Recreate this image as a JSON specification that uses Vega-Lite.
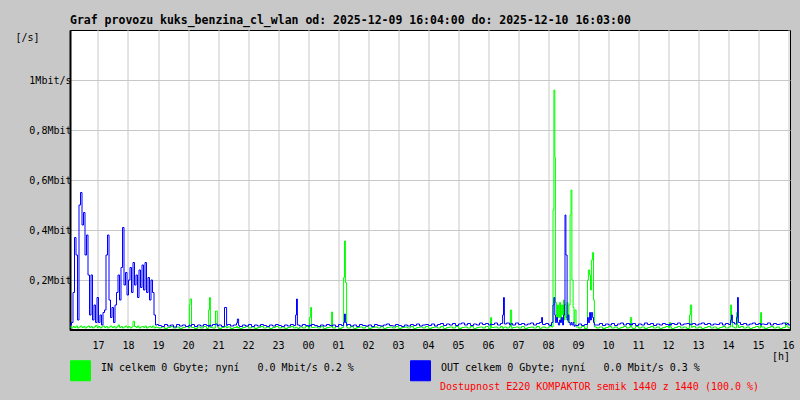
{
"$schema": "https://vega.github.io/schema/vega-lite/v6.json",
"width": 720,
"height": 300,
"autosize": {"type": "none"},
"padding": {"left": 70, "top": 30, "right": 10, "bottom": 70},
"background": "#c8c8c8",
"title": {"text": "Graf provozu kuks_benzina_cl_wlan od: 2025-12-09 16:04:00 do: 2025-12-10 16:03:00", "anchor": "start", "frame": "group", "font": "DejaVu Sans Mono", "fontSize": 11.5, "fontWeight": "bold", "color": "black", "offset": 4},
"config": {
  "view": {"fill": "white", "stroke": "black", "strokeWidth": 1},
  "axis": {"labelFont": "DejaVu Sans Mono", "labelFontSize": 10, "labelColor": "black", "titleFont": "DejaVu Sans Mono", "titleFontSize": 10, "titleFontWeight": "normal", "titleColor": "black", "gridColor": "#c8c8c8", "gridWidth": 1, "gridOpacity": 1, "domainColor": "black", "domainWidth": 2, "tickSize": 0, "labelFlush": false, "labelOverlap": false}
},
"data": {"values": [
{"h":16.05,"IN":0.012,"OUT":0.02},{"h":16.1,"IN":0.008,"OUT":0.03},{"h":16.15,"IN":0.014,"OUT":0.15},{"h":16.2,"IN":0.01,"OUT":0.37},{"h":16.25,"IN":0.016,"OUT":0.3},{"h":16.3,"IN":0.008,"OUT":0.04},{"h":16.35,"IN":0.012,"OUT":0.5},{"h":16.4,"IN":0.016,"OUT":0.55},{"h":16.45,"IN":0.01,"OUT":0.42},{"h":16.5,"IN":0.014,"OUT":0.47},{"h":16.55,"IN":0.008,"OUT":0.3},{"h":16.6,"IN":0.012,"OUT":0.38},{"h":16.65,"IN":0.016,"OUT":0.22},{"h":16.7,"IN":0.01,"OUT":0.06},{"h":16.75,"IN":0.014,"OUT":0.22},{"h":16.8,"IN":0.008,"OUT":0.04},{"h":16.85,"IN":0.012,"OUT":0.1},{"h":16.9,"IN":0.018,"OUT":0.03},{"h":16.95,"IN":0.01,"OUT":0.13},
{"h":17.0,"IN":0.014,"OUT":0.03},{"h":17.05,"IN":0.008,"OUT":0.06},{"h":17.1,"IN":0.012,"OUT":0.02},{"h":17.15,"IN":0.016,"OUT":0.07},{"h":17.2,"IN":0.01,"OUT":0.08},{"h":17.25,"IN":0.014,"OUT":0.3},{"h":17.3,"IN":0.008,"OUT":0.38},{"h":17.35,"IN":0.012,"OUT":0.12},{"h":17.4,"IN":0.016,"OUT":0.05},{"h":17.45,"IN":0.01,"OUT":0.09},{"h":17.5,"IN":0.014,"OUT":0.03},{"h":17.55,"IN":0.008,"OUT":0.1},{"h":17.6,"IN":0.012,"OUT":0.15},{"h":17.65,"IN":0.02,"OUT":0.22},{"h":17.7,"IN":0.01,"OUT":0.12},{"h":17.75,"IN":0.014,"OUT":0.25},{"h":17.8,"IN":0.008,"OUT":0.41},{"h":17.85,"IN":0.012,"OUT":0.18},{"h":17.9,"IN":0.016,"OUT":0.23},{"h":17.95,"IN":0.01,"OUT":0.14},
{"h":18.0,"IN":0.014,"OUT":0.2},{"h":18.05,"IN":0.008,"OUT":0.25},{"h":18.1,"IN":0.012,"OUT":0.15},{"h":18.15,"IN":0.035,"OUT":0.27},{"h":18.2,"IN":0.014,"OUT":0.18},{"h":18.25,"IN":0.01,"OUT":0.22},{"h":18.3,"IN":0.016,"OUT":0.13},{"h":18.35,"IN":0.008,"OUT":0.24},{"h":18.4,"IN":0.012,"OUT":0.17},{"h":18.45,"IN":0.014,"OUT":0.26},{"h":18.5,"IN":0.01,"OUT":0.16},{"h":18.55,"IN":0.016,"OUT":0.27},{"h":18.6,"IN":0.008,"OUT":0.15},{"h":18.65,"IN":0.012,"OUT":0.21},{"h":18.7,"IN":0.014,"OUT":0.12},{"h":18.75,"IN":0.01,"OUT":0.2},{"h":18.8,"IN":0.016,"OUT":0.15},{"h":18.85,"IN":0.008,"OUT":0.06},{"h":18.9,"IN":0.012,"OUT":0.02},{"h":18.95,"IN":0.01,"OUT":0.022},
{"h":19.0,"IN":0.008,"OUT":0.018},{"h":19.1,"IN":0.012,"OUT":0.014},{"h":19.2,"IN":0.006,"OUT":0.022},{"h":19.3,"IN":0.01,"OUT":0.016},{"h":19.4,"IN":0.014,"OUT":0.02},{"h":19.5,"IN":0.008,"OUT":0.012},{"h":19.6,"IN":0.012,"OUT":0.022},{"h":19.7,"IN":0.006,"OUT":0.016},{"h":19.8,"IN":0.01,"OUT":0.02},{"h":19.9,"IN":0.014,"OUT":0.014},
{"h":20.0,"IN":0.008,"OUT":0.018},{"h":20.03,"IN":0.1,"OUT":0.02},{"h":20.05,"IN":0.124,"OUT":0.016},{"h":20.1,"IN":0.01,"OUT":0.022},{"h":20.2,"IN":0.006,"OUT":0.014},{"h":20.3,"IN":0.012,"OUT":0.02},{"h":20.4,"IN":0.008,"OUT":0.016},{"h":20.5,"IN":0.014,"OUT":0.022},{"h":20.6,"IN":0.006,"OUT":0.018},{"h":20.67,"IN":0.08,"OUT":0.014},{"h":20.7,"IN":0.13,"OUT":0.02},{"h":20.73,"IN":0.01,"OUT":0.016},{"h":20.8,"IN":0.008,"OUT":0.022},{"h":20.9,"IN":0.076,"OUT":0.024},{"h":20.96,"IN":0.012,"OUT":0.016},
{"h":21.0,"IN":0.006,"OUT":0.02},{"h":21.1,"IN":0.01,"OUT":0.014},{"h":21.2,"IN":0.014,"OUT":0.09},{"h":21.27,"IN":0.008,"OUT":0.018},{"h":21.3,"IN":0.012,"OUT":0.022},{"h":21.4,"IN":0.006,"OUT":0.016},{"h":21.5,"IN":0.01,"OUT":0.02},{"h":21.6,"IN":0.014,"OUT":0.028},{"h":21.63,"IN":0.008,"OUT":0.044},{"h":21.67,"IN":0.012,"OUT":0.018},{"h":21.7,"IN":0.006,"OUT":0.014},{"h":21.8,"IN":0.01,"OUT":0.02},{"h":21.9,"IN":0.014,"OUT":0.016},
{"h":22.0,"IN":0.008,"OUT":0.022},{"h":22.1,"IN":0.012,"OUT":0.014},{"h":22.2,"IN":0.006,"OUT":0.02},{"h":22.3,"IN":0.01,"OUT":0.016},{"h":22.4,"IN":0.014,"OUT":0.022},{"h":22.5,"IN":0.008,"OUT":0.018},{"h":22.6,"IN":0.012,"OUT":0.014},{"h":22.7,"IN":0.006,"OUT":0.02},{"h":22.8,"IN":0.01,"OUT":0.016},{"h":22.9,"IN":0.014,"OUT":0.022},
{"h":23.0,"IN":0.008,"OUT":0.018},{"h":23.1,"IN":0.012,"OUT":0.014},{"h":23.2,"IN":0.006,"OUT":0.02},{"h":23.3,"IN":0.01,"OUT":0.016},{"h":23.4,"IN":0.014,"OUT":0.022},{"h":23.5,"IN":0.008,"OUT":0.018},{"h":23.57,"IN":0.012,"OUT":0.06},{"h":23.6,"IN":0.01,"OUT":0.124},{"h":23.63,"IN":0.006,"OUT":0.02},{"h":23.7,"IN":0.012,"OUT":0.016},{"h":23.8,"IN":0.008,"OUT":0.022},{"h":23.9,"IN":0.014,"OUT":0.018},
{"h":24.0,"IN":0.006,"OUT":0.014},{"h":24.03,"IN":0.05,"OUT":0.02},{"h":24.07,"IN":0.09,"OUT":0.016},{"h":24.1,"IN":0.01,"OUT":0.022},{"h":24.2,"IN":0.012,"OUT":0.018},{"h":24.3,"IN":0.008,"OUT":0.014},{"h":24.4,"IN":0.014,"OUT":0.02},{"h":24.5,"IN":0.006,"OUT":0.016},{"h":24.6,"IN":0.01,"OUT":0.022},{"h":24.7,"IN":0.012,"OUT":0.018},{"h":24.77,"IN":0.072,"OUT":0.016},{"h":24.8,"IN":0.008,"OUT":0.02},{"h":24.9,"IN":0.014,"OUT":0.014},
{"h":25.0,"IN":0.006,"OUT":0.022},{"h":25.1,"IN":0.01,"OUT":0.018},{"h":25.17,"IN":0.21,"OUT":0.03},{"h":25.2,"IN":0.356,"OUT":0.064},{"h":25.23,"IN":0.19,"OUT":0.03},{"h":25.27,"IN":0.012,"OUT":0.018},{"h":25.3,"IN":0.008,"OUT":0.022},{"h":25.4,"IN":0.014,"OUT":0.016},{"h":25.5,"IN":0.006,"OUT":0.02},{"h":25.6,"IN":0.01,"OUT":0.014},{"h":25.7,"IN":0.012,"OUT":0.022},{"h":25.8,"IN":0.008,"OUT":0.018},{"h":25.9,"IN":0.014,"OUT":0.016},
{"h":26.0,"IN":0.006,"OUT":0.02},{"h":26.1,"IN":0.01,"OUT":0.014},{"h":26.2,"IN":0.012,"OUT":0.022},{"h":26.3,"IN":0.008,"OUT":0.018},{"h":26.4,"IN":0.014,"OUT":0.016},{"h":26.5,"IN":0.006,"OUT":0.02},{"h":26.6,"IN":0.01,"OUT":0.024},{"h":26.7,"IN":0.012,"OUT":0.018},{"h":26.8,"IN":0.008,"OUT":0.016},{"h":26.9,"IN":0.014,"OUT":0.022},
{"h":27.0,"IN":0.006,"OUT":0.018},{"h":27.1,"IN":0.01,"OUT":0.014},{"h":27.2,"IN":0.012,"OUT":0.02},{"h":27.3,"IN":0.008,"OUT":0.016},{"h":27.4,"IN":0.014,"OUT":0.022},{"h":27.5,"IN":0.006,"OUT":0.018},{"h":27.6,"IN":0.01,"OUT":0.024},{"h":27.7,"IN":0.012,"OUT":0.016},{"h":27.8,"IN":0.008,"OUT":0.02},{"h":27.9,"IN":0.014,"OUT":0.022},
{"h":28.0,"IN":0.006,"OUT":0.018},{"h":28.1,"IN":0.01,"OUT":0.024},{"h":28.2,"IN":0.012,"OUT":0.016},{"h":28.3,"IN":0.008,"OUT":0.022},{"h":28.4,"IN":0.014,"OUT":0.026},{"h":28.5,"IN":0.006,"OUT":0.018},{"h":28.6,"IN":0.01,"OUT":0.024},{"h":28.7,"IN":0.012,"OUT":0.02},{"h":28.8,"IN":0.008,"OUT":0.026},{"h":28.9,"IN":0.014,"OUT":0.018},
{"h":29.0,"IN":0.006,"OUT":0.024},{"h":29.1,"IN":0.01,"OUT":0.028},{"h":29.2,"IN":0.012,"OUT":0.02},{"h":29.3,"IN":0.008,"OUT":0.026},{"h":29.4,"IN":0.014,"OUT":0.018},{"h":29.5,"IN":0.006,"OUT":0.024},{"h":29.6,"IN":0.01,"OUT":0.02},{"h":29.7,"IN":0.012,"OUT":0.028},{"h":29.8,"IN":0.008,"OUT":0.022},{"h":29.9,"IN":0.014,"OUT":0.026},
{"h":30.0,"IN":0.006,"OUT":0.02},{"h":30.07,"IN":0.05,"OUT":0.024},{"h":30.1,"IN":0.01,"OUT":0.022},{"h":30.2,"IN":0.012,"OUT":0.028},{"h":30.3,"IN":0.008,"OUT":0.02},{"h":30.4,"IN":0.014,"OUT":0.026},{"h":30.47,"IN":0.006,"OUT":0.06},{"h":30.5,"IN":0.01,"OUT":0.13},{"h":30.53,"IN":0.012,"OUT":0.024},{"h":30.6,"IN":0.008,"OUT":0.028},{"h":30.7,"IN":0.014,"OUT":0.02},{"h":30.73,"IN":0.08,"OUT":0.024},{"h":30.77,"IN":0.006,"OUT":0.026},{"h":30.8,"IN":0.01,"OUT":0.02},{"h":30.9,"IN":0.012,"OUT":0.028},
{"h":31.0,"IN":0.008,"OUT":0.022},{"h":31.1,"IN":0.014,"OUT":0.026},{"h":31.2,"IN":0.006,"OUT":0.02},{"h":31.3,"IN":0.01,"OUT":0.024},{"h":31.4,"IN":0.012,"OUT":0.028},{"h":31.5,"IN":0.008,"OUT":0.02},{"h":31.6,"IN":0.014,"OUT":0.026},{"h":31.7,"IN":0.006,"OUT":0.03},{"h":31.77,"IN":0.01,"OUT":0.05},{"h":31.8,"IN":0.012,"OUT":0.022},{"h":31.9,"IN":0.008,"OUT":0.026},
{"h":32.0,"IN":0.012,"OUT":0.02},{"h":32.05,"IN":0.02,"OUT":0.018},{"h":32.1,"IN":0.012,"OUT":0.03},{"h":32.15,"IN":0.48,"OUT":0.1},{"h":32.18,"IN":0.96,"OUT":0.13},{"h":32.21,"IN":0.69,"OUT":0.06},{"h":32.23,"IN":0.11,"OUT":0.03},{"h":32.27,"IN":0.04,"OUT":0.05},{"h":32.3,"IN":0.1,"OUT":0.03},{"h":32.33,"IN":0.05,"OUT":0.02},{"h":32.37,"IN":0.11,"OUT":0.04},{"h":32.4,"IN":0.03,"OUT":0.03},{"h":32.43,"IN":0.1,"OUT":0.05},{"h":32.47,"IN":0.06,"OUT":0.02},{"h":32.5,"IN":0.12,"OUT":0.06},{"h":32.53,"IN":0.04,"OUT":0.1},{"h":32.55,"IN":0.1,"OUT":0.46},{"h":32.58,"IN":0.05,"OUT":0.3},{"h":32.62,"IN":0.11,"OUT":0.04},{"h":32.65,"IN":0.03,"OUT":0.06},{"h":32.68,"IN":0.1,"OUT":0.03},{"h":32.72,"IN":0.46,"OUT":0.02},{"h":32.75,"IN":0.56,"OUT":0.03},{"h":32.78,"IN":0.2,"OUT":0.02},{"h":32.82,"IN":0.09,"OUT":0.03},{"h":32.85,"IN":0.03,"OUT":0.015},{"h":32.88,"IN":0.08,"OUT":0.02},{"h":32.92,"IN":0.012,"OUT":0.018},
{"h":33.0,"IN":0.008,"OUT":0.024},{"h":33.1,"IN":0.014,"OUT":0.018},{"h":33.2,"IN":0.006,"OUT":0.022},{"h":33.3,"IN":0.2,"OUT":0.05},{"h":33.33,"IN":0.24,"OUT":0.03},{"h":33.37,"IN":0.22,"OUT":0.07},{"h":33.4,"IN":0.16,"OUT":0.04},{"h":33.43,"IN":0.28,"OUT":0.07},{"h":33.47,"IN":0.31,"OUT":0.05},{"h":33.5,"IN":0.12,"OUT":0.03},{"h":33.53,"IN":0.012,"OUT":0.02},
{"h":33.6,"IN":0.008,"OUT":0.02},{"h":33.7,"IN":0.012,"OUT":0.026},{"h":33.8,"IN":0.006,"OUT":0.018},{"h":33.9,"IN":0.01,"OUT":0.024},
{"h":34.0,"IN":0.014,"OUT":0.02},{"h":34.1,"IN":0.008,"OUT":0.026},{"h":34.2,"IN":0.012,"OUT":0.018},{"h":34.3,"IN":0.006,"OUT":0.024},{"h":34.4,"IN":0.01,"OUT":0.028},{"h":34.5,"IN":0.014,"OUT":0.02},{"h":34.6,"IN":0.008,"OUT":0.026},{"h":34.7,"IN":0.012,"OUT":0.02},{"h":34.73,"IN":0.05,"OUT":0.024},{"h":34.77,"IN":0.01,"OUT":0.02},{"h":34.8,"IN":0.006,"OUT":0.026},{"h":34.9,"IN":0.014,"OUT":0.018},
{"h":35.0,"IN":0.008,"OUT":0.024},{"h":35.1,"IN":0.012,"OUT":0.02},{"h":35.2,"IN":0.006,"OUT":0.028},{"h":35.3,"IN":0.01,"OUT":0.022},{"h":35.4,"IN":0.014,"OUT":0.026},{"h":35.5,"IN":0.008,"OUT":0.018},{"h":35.6,"IN":0.012,"OUT":0.024},{"h":35.7,"IN":0.006,"OUT":0.02},{"h":35.8,"IN":0.01,"OUT":0.026},{"h":35.9,"IN":0.014,"OUT":0.022},
{"h":36.0,"IN":0.008,"OUT":0.018},{"h":36.03,"IN":0.03,"OUT":0.024},{"h":36.07,"IN":0.012,"OUT":0.02},{"h":36.1,"IN":0.006,"OUT":0.026},{"h":36.2,"IN":0.01,"OUT":0.022},{"h":36.3,"IN":0.014,"OUT":0.028},{"h":36.4,"IN":0.008,"OUT":0.02},{"h":36.5,"IN":0.012,"OUT":0.024},{"h":36.6,"IN":0.006,"OUT":0.026},{"h":36.7,"IN":0.06,"OUT":0.02},{"h":36.73,"IN":0.1,"OUT":0.024},{"h":36.77,"IN":0.01,"OUT":0.022},{"h":36.8,"IN":0.014,"OUT":0.026},{"h":36.9,"IN":0.008,"OUT":0.02},
{"h":37.0,"IN":0.012,"OUT":0.024},{"h":37.1,"IN":0.006,"OUT":0.028},{"h":37.2,"IN":0.01,"OUT":0.022},{"h":37.3,"IN":0.014,"OUT":0.026},{"h":37.4,"IN":0.008,"OUT":0.02},{"h":37.5,"IN":0.012,"OUT":0.024},{"h":37.6,"IN":0.006,"OUT":0.022},{"h":37.7,"IN":0.01,"OUT":0.028},{"h":37.8,"IN":0.014,"OUT":0.02},{"h":37.9,"IN":0.008,"OUT":0.026},
{"h":38.0,"IN":0.012,"OUT":0.022},{"h":38.07,"IN":0.1,"OUT":0.04},{"h":38.1,"IN":0.03,"OUT":0.06},{"h":38.13,"IN":0.012,"OUT":0.03},{"h":38.2,"IN":0.008,"OUT":0.024},{"h":38.27,"IN":0.07,"OUT":0.05},{"h":38.3,"IN":0.02,"OUT":0.13},{"h":38.33,"IN":0.01,"OUT":0.03},{"h":38.4,"IN":0.014,"OUT":0.022},{"h":38.5,"IN":0.008,"OUT":0.026},{"h":38.6,"IN":0.012,"OUT":0.02},{"h":38.7,"IN":0.006,"OUT":0.024},{"h":38.8,"IN":0.01,"OUT":0.028},{"h":38.9,"IN":0.014,"OUT":0.022},
{"h":39.0,"IN":0.008,"OUT":0.026},{"h":39.07,"IN":0.07,"OUT":0.02},{"h":39.1,"IN":0.012,"OUT":0.024},{"h":39.2,"IN":0.006,"OUT":0.022},{"h":39.3,"IN":0.01,"OUT":0.028},{"h":39.4,"IN":0.014,"OUT":0.02},{"h":39.5,"IN":0.008,"OUT":0.026},{"h":39.6,"IN":0.012,"OUT":0.022},{"h":39.7,"IN":0.006,"OUT":0.024},{"h":39.8,"IN":0.01,"OUT":0.028},{"h":39.9,"IN":0.03,"OUT":0.022},{"h":39.95,"IN":0.012,"OUT":0.026},
{"h":40.0,"IN":0.008,"OUT":0.02},{"h":40.05,"IN":0.01,"OUT":0.022}
]},
"transform": [{"fold": ["IN", "OUT"], "as": ["k", "v"]}],
"mark": {"type": "line", "interpolate": "step-after", "strokeWidth": 1, "clip": true},
"encoding": {
  "x": {"field": "h", "type": "quantitative", "scale": {"domain": [16.05, 40.05], "nice": false, "zero": false},
    "axis": {"translate": 0, "values": [17,18,19,20,21,22,23,24,25,26,27,28,29,30,31,32,33,34,35,36,37,38,39,40], "labelExpr": "(datum.value % 24 < 10 ? '0' : '') + (datum.value % 24)", "labelPadding": 11, "title": "Dostupnost E220 KOMPAKTOR semik 1440 z 1440 (100.0 %)", "titleColor": "#ff0000", "titleAlign": "left", "titleBaseline": "middle", "titleX": 370, "titleY": 57}},
  "y": {"field": "v", "type": "quantitative", "scale": {"domain": [0, 1.2], "nice": false},
    "axis": {"values": [0.2, 0.4, 0.6, 0.8, 1], "labelExpr": "datum.value == 1 ? '1Mbit/s' : replace(format(datum.value, '.1f'), '.', ',') + 'Mbit'", "labelPadding": -1, "title": "[/s]", "titleAngle": 0, "titleAlign": "left", "titleBaseline": "middle", "titleX": -55, "titleY": 7}},
  "color": {"field": "k", "type": "nominal", "scale": {"domain": ["IN", "OUT"], "range": ["#00ff00", "#0000ff"]},
    "legend": {"orient": "none", "legendX": 0, "legendY": 330, "direction": "horizontal", "columns": 2, "columnPadding": 54, "padding": 0,
      "title": "[h]", "titleOrient": "right", "titleAnchor": "start", "titleBaseline": "alphabetic", "titleColor": "black", "titleFont": "DejaVu Sans Mono", "titleFontSize": 10, "titleFontWeight": "normal", "titlePadding": 72, "titleLimit": 100,
      "symbolType": "square", "symbolSize": 400, "symbolStrokeWidth": 1, "symbolOpacity": 1,
      "labelExpr": "datum.label == 'IN' ? 'IN celkem 0 Gbyte; nyní\u00a0\u00a0\u00a00.0 Mbit/s 0.2 %' : 'OUT celkem 0 Gbyte; nyní\u00a0\u00a0\u00a00.0 Mbit/s 0.3 %'",
      "labelFont": "DejaVu Sans Mono", "labelFontSize": 10, "labelColor": "black", "labelLimit": 600, "labelOffset": 10, "labelBaseline": "alphabetic",
      "encode": {"symbols": {"update": {"fill": {"scale": "color", "field": "value"}, "stroke": {"value": "black"}, "strokeWidth": {"value": 1}, "opacity": {"value": 1}}}}}}
}
}
